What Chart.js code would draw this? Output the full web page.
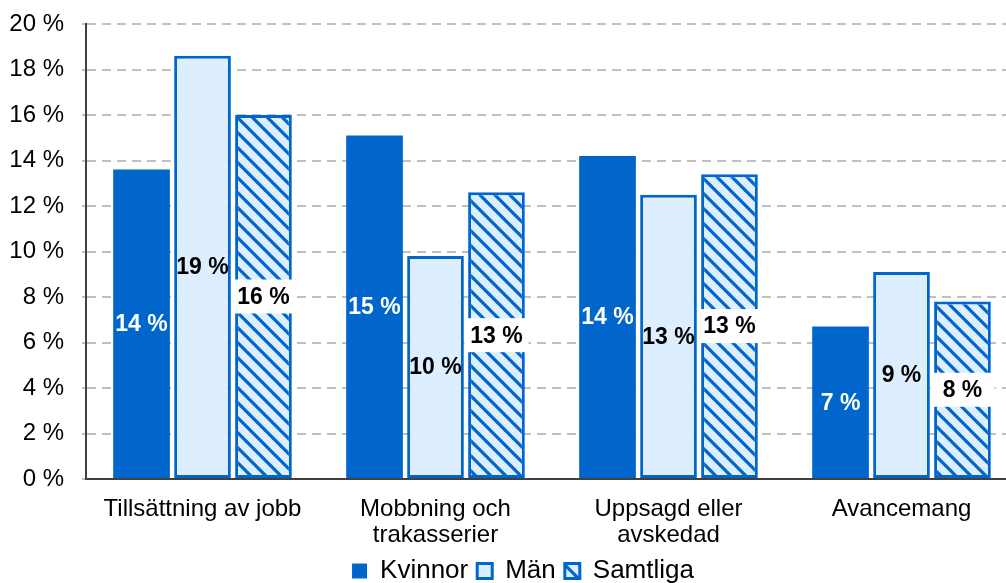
<!DOCTYPE html>
<html>
<head>
<meta charset="utf-8">
<script src="https://cdn.jsdelivr.net/npm/chart.js@4/dist/chart.umd.min.js"></script>
<style>
  html, body { margin: 0; padding: 0; background: #fff; overflow: hidden; }
  #wrap { width: 1018px; height: 583px; }
</style>
</head>
<body>
<div id="wrap"><canvas id="chart" width="1018" height="583"></canvas></div>
<script>
// data
const categories = ['Tillsättning av jobb', ['Mobbning och', 'trakasserier'], ['Uppsagd eller', 'avskedad'], 'Avancemang'];
const kvinnor = [13.6, 15.1, 14.2, 6.7];
const man = [18.6, 9.8, 12.5, 9.1];
const samtliga = [16.0, 12.6, 13.4, 7.8];
const yTicks = [0, 2, 4, 6, 8, 10, 12, 14, 16, 18, 20];

const BLUE = '#0066cc';
const LIGHT = '#ddeeff';
const FONT = '"Liberation Sans", Arial, sans-serif';

function hatch() {
    const s = 15;
    const c = document.createElement('canvas');
    c.width = s; c.height = s;
    const g = c.getContext('2d');
    g.fillStyle = LIGHT;
    g.fillRect(0, 0, s, s);
    g.strokeStyle = BLUE;
    g.lineWidth = 3.2;
    g.beginPath();
    g.moveTo(-2, -2); g.lineTo(s + 2, s + 2);
    g.moveTo(-4, s - 4); g.lineTo(4, s + 4);
    g.moveTo(s - 4, -4); g.lineTo(s + 4, 4);
    g.stroke();
    return g.createPattern(c, 'repeat');
}

const labelPlugin = {
    id: 'barLabels',
    afterDatasetsDraw(chart) {
        const ctx = chart.ctx;
        ctx.save();
        ctx.font = 'bold 23px ' + FONT;
        ctx.textAlign = 'center';
        ctx.textBaseline = 'middle';
        chart.data.datasets.forEach((ds, i) => {
            const meta = chart.getDatasetMeta(i);
            meta.data.forEach((bar, j) => {
                const txt = Math.round(ds.data[j]) + ' %';
                const y = (bar.y + bar.base) / 2;
                if (i === 2) {
                    ctx.fillStyle = '#fff';
                    ctx.fillRect(bar.x - 32, y - 17, 64, 34);
                }
                ctx.fillStyle = i === 0 ? '#fff' : '#000';
                ctx.fillText(txt, bar.x, y + 1);
            });
        });
        ctx.restore();
    }
};

// nudge the legend to the right, as in the reference
const legendShift = {
    id: 'legendShift',
    afterLayout(chart) {
        chart.legend.left += 14;
        chart.legend.right += 14;
    }
};

new Chart(document.getElementById('chart'), {
    type: 'bar',
    data: {
        labels: categories,
        datasets: [
            { label: 'Kvinnor', data: kvinnor, backgroundColor: BLUE, borderColor: BLUE, borderWidth: 0 },
            { label: 'Män', data: man, backgroundColor: LIGHT, borderColor: BLUE, borderWidth: 3, borderSkipped: false },
            { label: 'Samtliga', data: samtliga, backgroundColor: hatch(), borderColor: BLUE, borderWidth: 3, borderSkipped: false }
        ]
    },
    options: {
        responsive: false,
        animation: false,
        layout: { padding: { top: 24, right: 0, left: 0, bottom: -11 } },
        datasets: { bar: { categoryPercentage: 0.785, barPercentage: 0.93 } },
        plugins: {
            tooltip: { enabled: false },
            legend: {
                position: 'bottom',
                labels: {
                    font: { family: FONT, size: 26, lineHeight: 1 },
                    color: '#000',
                    boxWidth: 15,
                    boxHeight: 15,
                    padding: 9
                }
            }
        },
        scales: {
            x: {
                grid: { display: false },
                border: { color: '#404040', width: 2 },
                ticks: { font: { family: FONT, size: 24, lineHeight: 1.1 }, color: '#000', padding: 9, maxRotation: 0 },
                afterFit(scale) { scale.height = 70; }
            },
            y: {
                min: 0,
                max: 20,
                afterBuildTicks(scale) { scale.ticks = yTicks.map(v => ({ value: v })); },
                grid: { color: '#c0c0c0', lineWidth: 2, tickLength: 4, tickColor: '#c0c0c0' },
                border: { color: '#404040', width: 2, dash: [9, 6] },
                ticks: {
                    font: { family: FONT, size: 24 },
                    color: '#000',
                    padding: 18,
                    callback: v => v + ' %'
                },
                afterFit(scale) {
                    scale.width = 86;
                    scale.paddingTop = 0;
                    scale.paddingBottom = 0;
                }
            }
        }
    },
    plugins: [labelPlugin, legendShift]
});
</script>
</body>
</html>
